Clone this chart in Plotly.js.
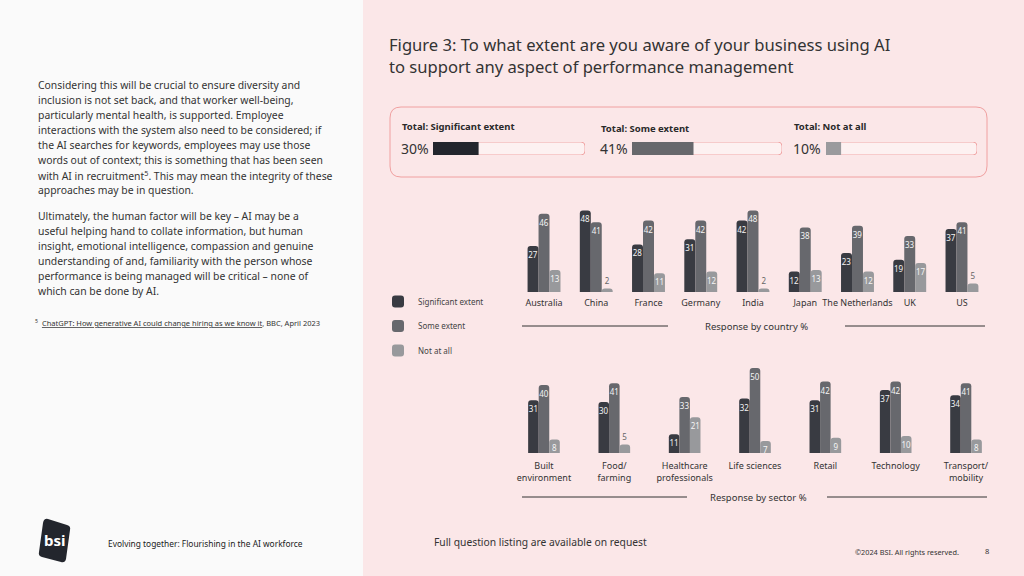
<!DOCTYPE html>
<html>
<head>
<meta charset="utf-8">
<script src="https://cdn.plot.ly/plotly-3.0.1.min.js"></script>
<style>
  html, body { margin: 0; padding: 0; overflow: hidden; background: #fbe7e8; }
  #chart { width: 1024px; height: 576px; }
</style>
</head>
<body>
<div id="chart"></div>
<script>
// ---------------- DATA ----------------
const seriesNames = ['Significant extent', 'Some extent', 'Not at all'];

const countries = ['Australia', 'China', 'France', 'Germany', 'India', 'Japan', 'The Netherlands', 'UK', 'US'];
const countrySignificant = [27, 48, 28, 31, 42, 12, 23, 19, 37];
const countrySome        = [46, 41, 42, 42, 48, 38, 39, 33, 41];
const countryNotAtAll    = [13, 2, 11, 12, 2, 13, 12, 17, 5];

const sectors = ['Built<br>environment', 'Food/<br>farming', 'Healthcare<br>professionals', 'Life sciences', 'Retail', 'Technology', 'Transport/<br>mobility'];
const sectorSignificant = [31, 30, 11, 32, 31, 37, 34];
const sectorSome        = [40, 41, 33, 50, 42, 42, 41];
const sectorNotAtAll    = [8, 5, 21, 7, 9, 10, 8];

const totalLabels = ['Total: Significant extent', 'Total: Some extent', 'Total: Not at all'];
const totalValues = [30, 41, 10];
const totalScaleMax = 100;

const titleText = 'Figure 3: To what extent are you aware of your business using AI<br>to support any aspect of performance management';
const countryAxisTitle = 'Response by country %';
const sectorAxisTitle = 'Response by sector %';

const bodyPara1 = [
  'Considering this will be crucial to ensure diversity and',
  'inclusion is not set back, and that worker well-being,',
  'particularly mental health, is supported. Employee',
  'interactions with the system also need to be considered; if',
  'the AI searches for keywords, employees may use those',
  'words out of context; this is something that has been seen',
  'with AI in recruitment<sup>5</sup>. This may mean the integrity of these',
  'approaches may be in question.'
];
const bodyPara2 = [
  'Ultimately, the human factor will be key \u2013 AI may be a',
  'useful helping hand to collate information, but human',
  'insight, emotional intelligence, compassion and genuine',
  'understanding of and, familiarity with the person whose',
  'performance is being managed will be critical \u2013 none of',
  'which can be done by AI.'
];
const footnoteText = '<sup>5</sup>  <span style="text-decoration:underline">ChatGPT: How generative AI could change hiring as we know it</span>, BBC, April 2023';
const footerLeft = 'Evolving together: Flourishing in the AI workforce';
const footerCenter = 'Full question listing are available on request';
const footerCopy = '\u00a92024 BSI. All rights reserved.';
const pageNumber = '8';
const logoText = 'bsi';

// ---------------- STYLE ----------------
const W = 1024, H = 576;
const FONT = 'Noto Sans, Open Sans, sans-serif';
const barColors = ['#393b42', '#67686d', '#98999c'];
const totalColors = ['#23262d', '#67686c', '#9a9a9d'];
const textDark = '#333333';
const px = x => x / W;
const py = y => 1 - y / H;

function roundRectPath(x0, y0, x1, y1, r) {
  const P = (x, y) => px(x) + ',' + py(y);
  return 'M' + P(x0 + r, y0) + ' L' + P(x1 - r, y0) + ' Q' + P(x1, y0) + ' ' + P(x1, y0 + r) +
    ' L' + P(x1, y1 - r) + ' Q' + P(x1, y1) + ' ' + P(x1 - r, y1) +
    ' L' + P(x0 + r, y1) + ' Q' + P(x0, y1) + ' ' + P(x0, y1 - r) +
    ' L' + P(x0, y0 + r) + ' Q' + P(x0, y0) + ' ' + P(x0 + r, y0) + ' Z';
}

// ---------------- TRACES ----------------
const traces = [];
const countrySeries = [countrySignificant, countrySome, countryNotAtAll];
const sectorSeries = [sectorSignificant, sectorSome, sectorNotAtAll];

function groupedBars(cats, series, xa, ya, bw, showLegend) {
  series.forEach((vals, i) => {
    traces.push({
      type: 'bar',
      x: cats,
      y: vals,
      xaxis: xa, yaxis: ya,
      name: seriesNames[i],
      legendgroup: 'g' + i,
      showlegend: showLegend,
      width: bw,
      offset: -1.5 * bw + i * bw,
      marker: { color: barColors[i], cornerradius: 3 },
      text: vals.map(String),
      textposition: vals.map(v => v < 6 ? 'outside' : 'inside'),
      insidetextanchor: 'end',
      constraintext: 'none',
      textangle: 0,
      textfont: { family: FONT, size: 8, color: '#f4f4f4' },
      outsidetextfont: { family: FONT, size: 8, color: '#666666' },
      cliponaxis: false,
      hoverinfo: 'x+y+name'
    });
  });
}
groupedBars(countries, countrySeries, 'x', 'y', 0.21, true);
groupedBars(sectors, sectorSeries, 'x2', 'y2', 0.15, false);

// total progress bars
totalValues.forEach((v, i) => {
  const xa = 'x' + (3 + i), ya = 'y' + (3 + i);
  traces.push({
    type: 'bar', orientation: 'h',
    x: [totalScaleMax], y: [totalLabels[i]],
    xaxis: xa, yaxis: ya,
    width: 1, offset: -0.5,
    marker: { color: '#fdf1f1', line: { color: '#f0a5a5', width: 1 }, cornerradius: 4 },
    showlegend: false, hoverinfo: 'skip', cliponaxis: false
  });
  traces.push({
    type: 'bar', orientation: 'h',
    x: [v], y: [totalLabels[i]],
    xaxis: xa, yaxis: ya,
    width: 1, offset: -0.5,
    name: totalLabels[i],
    marker: { color: totalColors[i], cornerradius: 3 },
    showlegend: false, hoverinfo: 'x+y', cliponaxis: false
  });
});

// ---------------- LAYOUT ----------------
const totalDomainsX = [[433, 585], [632, 782], [826, 977]];
const totalLabelPos = [[400, 126], [599, 128], [792, 126]];

const layout = {
  width: W, height: H,
  margin: { l: 0, r: 0, t: 0, b: 0 },
  paper_bgcolor: '#fbe7e8',
  plot_bgcolor: 'rgba(0,0,0,0)',
  font: { family: FONT, color: textDark },
  barmode: 'group',
  title: {
    text: titleText,
    font: { family: FONT, size: 16.6, color: '#333333' },
    xref: 'paper', yref: 'paper',
    x: px(389), xanchor: 'left',
    y: py(51), yanchor: 'middle'
  },
  showlegend: true,
  legend: {
    x: px(378), y: py(287), xanchor: 'left', yanchor: 'top',
    bgcolor: 'rgba(0,0,0,0)',
    font: { family: FONT, size: 8, color: '#444444' },
    tracegroupgap: 5.5,
    traceorder: 'grouped'
  },
  xaxis: {
    domain: [px(517.9), px(988.1)], anchor: 'y', type: 'category',
    showline: false, ticks: '', showgrid: false, zeroline: false,
    ticklabelstandoff: 4,
    tickfont: { family: FONT, size: 9, color: textDark }, fixedrange: true
  },
  yaxis: { domain: [py(292), py(198.5)], range: [0, 55], visible: false, fixedrange: true },
  xaxis2: {
    domain: [px(508.8), px(1001.2)], anchor: 'y2', type: 'category',
    showline: false, ticks: '', showgrid: false, zeroline: false,
    ticklabelstandoff: 6,
    tickfont: { family: FONT, size: 9, color: textDark }, fixedrange: true
  },
  yaxis2: { domain: [py(453), py(359.5)], range: [0, 55], visible: false, fixedrange: true },
  shapes: [],
  annotations: []
};

totalDomainsX.forEach((d, i) => {
  layout['xaxis' + (3 + i)] = { domain: [px(d[0]), px(d[1])], anchor: 'y' + (3 + i), range: [0, totalScaleMax], visible: false, fixedrange: true };
  layout['yaxis' + (3 + i)] = { domain: [py(155), py(142)], anchor: 'x' + (3 + i), range: [-0.5, 0.5], type: 'category', visible: false, fixedrange: true };
  layout.annotations.push({
    xref: 'paper', yref: 'paper', x: px(totalLabelPos[i][0]), y: py(totalLabelPos[i][1]),
    xanchor: 'left', yanchor: 'middle', showarrow: false,
    text: '<b>' + totalLabels[i] + '</b>',
    font: { family: FONT, size: 9.5, color: '#2a2a2a' }
  });
  layout.annotations.push({
    xref: 'paper', yref: 'paper', x: px(totalLabelPos[i][0] - 1), y: py(148),
    xanchor: 'left', yanchor: 'middle', showarrow: false,
    text: totalValues[i] + '%',
    font: { family: FONT, size: 14, color: '#333333' }
  });
});

// background panel (left, white-ish)
layout.shapes.push({ type: 'rect', xref: 'paper', yref: 'paper', x0: 0, x1: px(363), y0: 0, y1: 1, fillcolor: '#fafafa', line: { width: 0 }, layer: 'below' });
// totals box
layout.shapes.push({ type: 'path', xref: 'paper', yref: 'paper', path: roundRectPath(390, 107, 987, 177, 11), line: { color: '#f0a0a0', width: 1 }, fillcolor: 'rgba(0,0,0,0)', layer: 'below' });
// axis title rules
[[522, 668, 326], [845, 985, 326], [522, 687, 497], [827, 987, 497]].forEach(l => {
  layout.shapes.push({ type: 'line', xref: 'paper', yref: 'paper', x0: px(l[0]), x1: px(l[1]), y0: py(l[2]), y1: py(l[2]), line: { color: '#333333', width: 1 } });
});
// logo
layout.shapes.push({
  type: 'path', xref: 'paper', yref: 'paper',
  path: 'M' + px(48) + ',' + py(519) + ' L' + px(67) + ',' + py(525) + ' Q' + px(71) + ',' + py(526) + ' ' + px(70) + ',' + py(530) +
    ' L' + px(66) + ',' + py(559) + ' Q' + px(65) + ',' + py(563) + ' ' + px(61) + ',' + py(562) +
    ' L' + px(42) + ',' + py(557) + ' Q' + px(38) + ',' + py(556) + ' ' + px(39) + ',' + py(552) +
    ' L' + px(43) + ',' + py(523) + ' Q' + px(44) + ',' + py(518) + ' ' + px(48) + ',' + py(519) + ' Z',
  fillcolor: '#23262d', line: { width: 0 }
});

function ann(text, x, y, size, color, anchor, extra) {
  layout.annotations.push(Object.assign({
    xref: 'paper', yref: 'paper', x: px(x), y: py(y), xanchor: anchor || 'left', yanchor: 'middle',
    showarrow: false, text: text, font: { family: FONT, size: size, color: color }
  }, extra || {}));
}

bodyPara1.forEach((t, i) => ann(t, 36, 85 + i * 15, 10.4, '#333333'));
bodyPara2.forEach((t, i) => ann(t, 36, 216 + i * 15, 10.4, '#333333'));
ann(footnoteText, 33, 322, 7.5, '#333333');

ann(countryAxisTitle, 756, 326, 9.5, textDark, 'center');
ann(sectorAxisTitle, 758, 497, 9.5, textDark, 'center');

ann('<b>' + logoText + '</b>', 55, 540, 15, '#ffffff', 'center');
ann(footerLeft, 106, 543, 8.4, '#222222');
ann(footerCenter, 432, 542, 10.3, '#333333');
ann(footerCopy, 853, 552, 7.3, '#333333');
ann(pageNumber, 983, 551, 7.5, '#333333');

Plotly.newPlot('chart', traces, layout, { displayModeBar: false, staticPlot: true });
</script>
</body>
</html>
